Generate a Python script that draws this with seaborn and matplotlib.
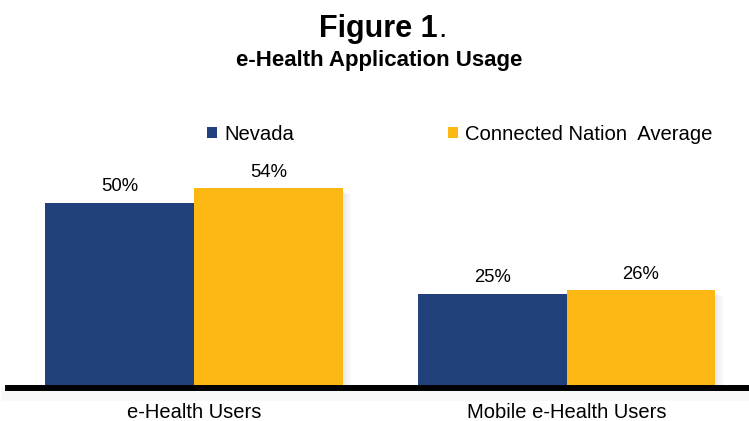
import matplotlib
matplotlib.use('Agg')
import matplotlib.pyplot as plt
import seaborn as sns
import pandas as pd
from matplotlib.patches import Patch
import matplotlib.patheffects as pe

# ---- data ----
categories = ['e-Health Users', 'Mobile e-Health Users']
series_names = ['Nevada', 'Connected Nation  Average']
nevada = [50, 25]
connected_nation = [54, 26]
colors = ['#22407C', '#FDB713']
title = 'Figure 1'
subtitle = 'e-Health Application Usage'

df = pd.DataFrame({
    'category': categories * 2,
    'group': [series_names[0]] * len(categories) + [series_names[1]] * len(categories),
    'value': nevada + connected_nation,
})

sns.set_theme(style='white')
plt.rcParams['font.family'] = ['Liberation Sans', 'DejaVu Sans']
plt.rcParams['text.color'] = 'black'

W, H = 749, 421
fig = plt.figure(figsize=(W / 100, H / 100), dpi=100)
ppp = 3.64
ymax = 70
bottom_px = 385
ax = fig.add_axes([8 / W, (H - bottom_px) / H, (W - 8) / W, ymax * ppp / H])

sns.barplot(data=df, x='category', y='value', hue='group', hue_order=series_names,
            order=categories, palette=colors, saturation=1, width=0.8, gap=0,
            legend=False, ax=ax)

ax.set_xlim(-0.5, 1.49)
ax.set_ylim(0, ymax)
ax.set_xlabel('')
ax.set_ylabel('')
ax.set_yticks([])
for s in ['left', 'right', 'top']:
    ax.spines[s].set_visible(False)
ax.spines['bottom'].set_color('black')
ax.spines['bottom'].set_linewidth(4.3)
ax.spines['bottom'].set_position(('outward', 2.2))
ax.spines['bottom'].set_path_effects([pe.SimpleLineShadow(offset=(0, -4), shadow_color='gray', alpha=0.05, linewidth=10), pe.Normal()])
ax.tick_params(axis='x', length=0, pad=11, labelsize=14.5, colors='black')

shadow = [pe.SimplePatchShadow(offset=(2, -2), shadow_rgbFace='gray', alpha=0.06),
          pe.SimplePatchShadow(offset=(4, -3), shadow_rgbFace='gray', alpha=0.05),
          pe.SimplePatchShadow(offset=(6, -4), shadow_rgbFace='gray', alpha=0.04),
          pe.Normal()]
for cont in ax.containers:
    for bar in cont:
        bar.set_edgecolor('none')
        bar.set_path_effects(shadow)
    ax.bar_label(cont, labels=[f'{v:.0f}%' for v in cont.datavalues], padding=5.5,
                 fontsize=13.3, color='black')

# legend
handles = [Patch(facecolor=c, edgecolor='none') for c in colors]
fig.legend(handles, series_names, loc='center left', bbox_to_anchor=(207 / W, 1 - 134 / H),
           ncol=2, frameon=False, fontsize=14.6, handlelength=0.47, handleheight=0.47,
           handletextpad=0.38, columnspacing=7.6, borderpad=0, borderaxespad=0,
           labelcolor='black')

# titles
t = fig.text(378 / W, 1 - 37 / H, title, fontsize=22, fontweight='bold', ha='center',
             va='baseline', color='black')
fig.canvas.draw()
bb = t.get_window_extent()
fig.text((bb.x1 + 1) / W, 1 - 37 / H, '.', fontsize=22, ha='left', va='baseline', color='black')
fig.text(379 / W, 1 - 66 / H, subtitle, fontsize=16, fontweight='bold', ha='center',
         va='baseline', color='black')

fig.savefig('out.png', dpi=100)
